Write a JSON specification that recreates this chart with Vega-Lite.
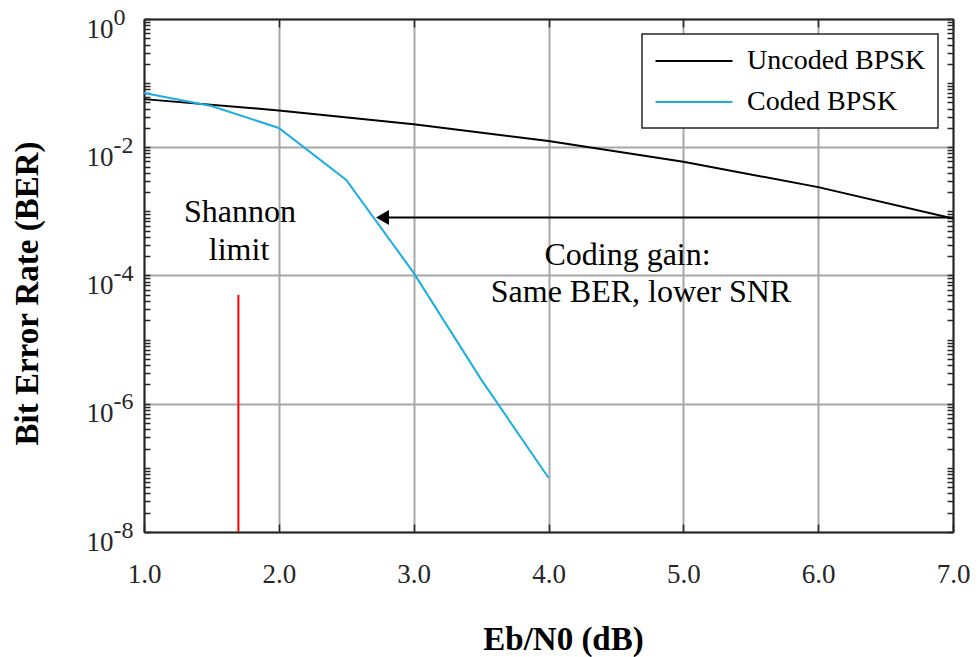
{
  "$schema": "https://vega.github.io/schema/vega-lite/v6.json",
  "width": 809,
  "height": 513,
  "autosize": {"type": "none"},
  "padding": {"left": 144, "top": 19, "right": 26, "bottom": 125},
  "background": "white",
  "config": {
    "view": {"stroke": null},
    "axis": {
      "labelColor": "#262626",
      "domainColor": "#262626",
      "domainWidth": 2,
      "tickColor": "#262626",
      "tickWidth": 1.5,
      "gridColor": "#a8a8a8",
      "gridWidth": 2,
      "labelFontSize": 27,
      "labelOverlap": false,
      "labelFlush": false
    },
    "legend": {"strokeWidth": 1.5}
  },
  "resolve": {"axis": {"x": "independent", "y": "independent"}},
  "layer": [
    {
      "data": {"values": [
        {"ebn0": 1, "ber": 0.0563, "series": "Uncoded BPSK"},
        {"ebn0": 2, "ber": 0.0375, "series": "Uncoded BPSK"},
        {"ebn0": 3, "ber": 0.0229, "series": "Uncoded BPSK"},
        {"ebn0": 4, "ber": 0.0125, "series": "Uncoded BPSK"},
        {"ebn0": 5, "ber": 0.00595, "series": "Uncoded BPSK"},
        {"ebn0": 6, "ber": 0.00239, "series": "Uncoded BPSK"},
        {"ebn0": 7, "ber": 0.000773, "series": "Uncoded BPSK"},
        {"ebn0": 1, "ber": 0.07, "series": "Coded BPSK"},
        {"ebn0": 1.5, "ber": 0.044, "series": "Coded BPSK"},
        {"ebn0": 2, "ber": 0.02, "series": "Coded BPSK"},
        {"ebn0": 2.5, "ber": 0.0031, "series": "Coded BPSK"},
        {"ebn0": 3, "ber": 0.00011, "series": "Coded BPSK"},
        {"ebn0": 3.5, "ber": 0.0000024, "series": "Coded BPSK"},
        {"ebn0": 4, "ber": 0.00000007, "series": "Coded BPSK"}
      ]},
      "mark": {"type": "line", "strokeWidth": 2},
      "encoding": {
        "x": {
          "field": "ebn0", "type": "quantitative",
          "scale": {"domain": [1, 7], "nice": false, "zero": false},
          "axis": {
            "orient": "bottom", "values": [1, 2, 3, 4, 5, 6, 7], "format": ".1f",
            "labelFont": "Liberation Serif", "titleFont": "Liberation Serif",
            "ticks": false, "grid": true, "domain": true, "labelPadding": 29,
            "title": "Eb/N0 (dB)", "titleFontSize": 33, "titleFontWeight": "bold", "titleColor": "black",
            "titleX": 419, "titleY": 117, "titleBaseline": "alphabetic", "titleAlign": "center"
          }
        },
        "y": {
          "field": "ber", "type": "quantitative",
          "scale": {"type": "log", "domain": [1e-8, 1], "nice": false},
          "axis": {
            "orient": "left", "values": [1e-8, 1e-6, 1e-4, 1e-2, 1], "labelExpr": "'10'",
            "labelFont": "Liberation Serif", "titleFont": "Liberation Serif",
            "ticks": false, "grid": true, "domain": true, "labelPadding": 31,
            "labelAlign": "right", "labelBaseline": "middle", "labelOffset": 10,
            "title": "Bit Error Rate (BER)", "titleFontSize": 33, "titleFontWeight": "bold", "titleColor": "black",
            "titleX": -107, "titleY": 274, "titleBaseline": "alphabetic", "titleAlign": "center", "titleAngle": -90
          }
        },
        "color": {
          "field": "series", "type": "nominal",
          "scale": {"domain": ["Uncoded BPSK", "Coded BPSK"], "range": ["#000000", "#1aaee5"]},
          "legend": {
            "title": null, "orient": "top-right", "offset": 15, "padding": 12,
            "strokeColor": "#262626", "fillColor": "white",
            "labelFont": "Liberation Serif", "labelFontSize": 28, "labelColor": "black", "labelLimit": 400,
            "labelExpr": "datum.label + '\u00a0\u00a0'",
            "symbolType": "M-2.75,0H2.75", "symbolSize": 784, "symbolStrokeWidth": 2,
            "symbolOffset": 25, "labelOffset": 38, "rowPadding": 12
          }
        }
      }
    },
    {
      "data": {"values": [{"x": 1.7, "lo": 1e-8, "hi": 5e-5}]},
      "mark": {"type": "rule", "color": "#ff0000", "strokeWidth": 2},
      "encoding": {
        "x": {
          "field": "x", "type": "quantitative",
          "scale": {"domain": [1, 7], "nice": false, "zero": false},
          "axis": {"orient": "bottom", "values": [1, 2, 3, 4, 5, 6, 7], "labels": false, "grid": false, "domain": false, "ticks": true, "tickSize": -8, "title": null}
        },
        "y": {
          "field": "lo", "type": "quantitative",
          "scale": {"type": "log", "domain": [1e-8, 1], "nice": false},
          "axis": {"orient": "left", "values": [1e-8,2e-8,3e-8,4e-8,5e-8,6e-8,7e-8,8e-8,9e-8,1e-7,2e-7,3e-7,4e-7,5e-7,6e-7,7e-7,8e-7,9e-7,1e-6,2e-6,3e-6,4e-6,5e-6,6e-6,7e-6,8e-6,9e-6,1e-5,2e-5,3e-5,4e-5,5e-5,6e-5,7e-5,8e-5,9e-5,1e-4,2e-4,3e-4,4e-4,5e-4,6e-4,7e-4,8e-4,9e-4,1e-3,2e-3,3e-3,4e-3,5e-3,6e-3,7e-3,8e-3,9e-3,1e-2,2e-2,3e-2,4e-2,5e-2,6e-2,7e-2,8e-2,9e-2,0.1,0.2,0.3,0.4,0.5,0.6,0.7,0.8,0.9,1], "labels": false, "grid": false, "domain": false, "ticks": true, "tickSize": -6, "title": null}
        },
        "y2": {"field": "hi"}
      }
    },
    {
      "data": {"values": [{"x": 2.77, "x2": 7, "y": 8e-4}]},
      "mark": {"type": "rule", "color": "#000000", "strokeWidth": 2},
      "encoding": {
        "x": {
          "field": "x", "type": "quantitative",
          "scale": {"domain": [1, 7], "nice": false, "zero": false},
          "axis": {"orient": "top", "values": [1, 2, 3, 4, 5, 6, 7], "labels": false, "grid": false, "domain": true, "ticks": true, "tickSize": -8, "title": null}
        },
        "x2": {"field": "x2"},
        "y": {
          "field": "y", "type": "quantitative",
          "scale": {"type": "log", "domain": [1e-8, 1], "nice": false},
          "axis": {"orient": "right", "values": [1e-8,2e-8,3e-8,4e-8,5e-8,6e-8,7e-8,8e-8,9e-8,1e-7,2e-7,3e-7,4e-7,5e-7,6e-7,7e-7,8e-7,9e-7,1e-6,2e-6,3e-6,4e-6,5e-6,6e-6,7e-6,8e-6,9e-6,1e-5,2e-5,3e-5,4e-5,5e-5,6e-5,7e-5,8e-5,9e-5,1e-4,2e-4,3e-4,4e-4,5e-4,6e-4,7e-4,8e-4,9e-4,1e-3,2e-3,3e-3,4e-3,5e-3,6e-3,7e-3,8e-3,9e-3,1e-2,2e-2,3e-2,4e-2,5e-2,6e-2,7e-2,8e-2,9e-2,0.1,0.2,0.3,0.4,0.5,0.6,0.7,0.8,0.9,1], "labels": false, "grid": false, "domain": true, "ticks": true, "tickSize": -6, "title": null}
        }
      }
    },
    {
      "data": {"values": [{"x": 2.769, "y": 8e-4}]},
      "mark": {"type": "point", "shape": "triangle-left", "size": 225, "filled": true, "color": "#000000", "opacity": 1},
      "encoding": {
        "x": {
          "field": "x", "type": "quantitative",
          "scale": {"domain": [1, 7], "nice": false, "zero": false},
          "axis": null
        },
        "y": {
          "field": "y", "type": "quantitative",
          "scale": {"type": "log", "domain": [1e-8, 1], "nice": false},
          "axis": {
            "orient": "left", "values": [1e-8, 1e-6, 1e-4, 1e-2, 1],
            "labelExpr": "'' + round(log(datum.value) / LN10)",
            "labelFont": "Liberation Serif",
            "labelAlign": "left", "labelBaseline": "middle", "labelPadding": 31, "labelFontSize": 24, "labelOffset": -2,
            "ticks": false, "domain": false, "grid": false, "title": null
          }
        }
      }
    },
    {
      "data": {"values": [
        {"x": 1.712, "y": 6.83e-4, "label": "Shannon"},
        {"x": 1.705, "y": 1.745e-4, "label": "limit"},
        {"x": 4.586, "y": 1.46e-4, "label": "Coding gain:"},
        {"x": 4.686, "y": 3.86e-5, "label": "Same BER, lower SNR"}
      ]},
      "mark": {"type": "text", "fontSize": 32, "color": "#000000", "align": "center", "baseline": "alphabetic", "font": "Liberation Serif"},
      "encoding": {
        "x": {
          "field": "x", "type": "quantitative",
          "scale": {"domain": [1, 7], "nice": false, "zero": false},
          "axis": null
        },
        "y": {
          "field": "y", "type": "quantitative",
          "scale": {"type": "log", "domain": [1e-8, 1], "nice": false},
          "axis": null
        },
        "text": {"field": "label"}
      }
    }
  ]
}
